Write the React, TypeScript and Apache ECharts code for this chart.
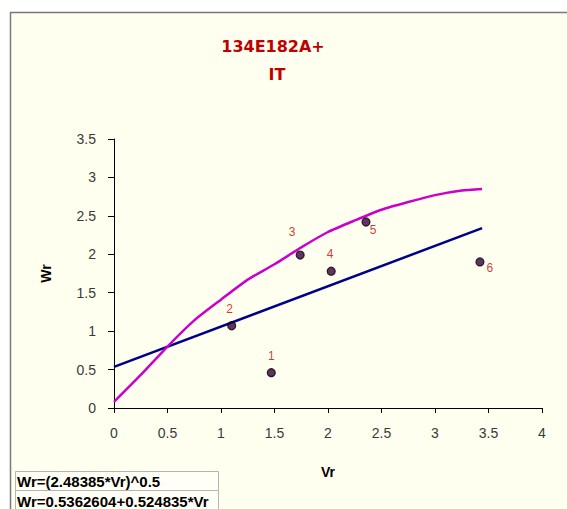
import React, { useEffect, useRef } from "react";
import * as echarts from "echarts";

const titleLines = ["134E182A+", "IT"];
const xAxisName = "Vr";
const yAxisName = "Wr";

const pointLabels = ["1", "2", "3", "4", "5", "6"];
const pointVr = [1.47, 1.1, 1.74, 2.03, 2.355, 3.42];
const pointWr = [0.46, 1.07, 1.99, 1.78, 2.42, 1.9];

const powerFitVr = [0, 0.25, 0.5, 0.75, 1.0, 1.25, 1.5, 1.75, 2.0, 2.25, 2.5, 2.75, 3.0, 3.25, 3.44];
const powerFitWr = [0.08, 0.43, 0.8, 1.14, 1.41, 1.67, 1.87, 2.09, 2.29, 2.44, 2.58, 2.68, 2.77, 2.83, 2.85];

const linearFitVr = [0, 3.44];
const linearFitWr = [0.536, 2.34];

const legendTexts = ["Wr=(2.48385*Vr)^0.5", "Wr=0.5362604+0.524835*Vr"];

// label offsets (style only)
const labelOffsets: [number, number][] = [
  [0, -17],
  [-2, -17],
  [-8, -23],
  [-1, -17],
  [7, 8],
  [10, 6],
];

export default function App() {
  const ref = useRef<HTMLDivElement>(null);

  useEffect(() => {
    if (!ref.current) return;
    const chart = echarts.init(ref.current, null, { renderer: "svg" });
    const cream = "#fffff0";
    const tickFont = { fontFamily: "Liberation Sans, Arial, sans-serif", fontSize: 14, color: "#3a3a3a" };
    const titleStyle = { color: "#c00000", fontSize: 16, fontWeight: "bold", fontFamily: "DejaVu Sans, sans-serif" };

    chart.setOption({
      animation: false,
      backgroundColor: "#ffffff",
      title: [
        { text: titleLines[0], left: 268, top: 33, textAlign: "center", textStyle: titleStyle },
        { text: titleLines[1], left: 272, top: 61, textAlign: "center", textStyle: titleStyle },
      ],
      graphic: [
        {
          type: "rect",
          z: -10,
          silent: true,
          shape: { x: 10.5, y: 12.5, width: 600, height: 600 },
          style: { fill: cream, stroke: "#7a7a7a", lineWidth: 1.5 },
        },
        {
          type: "rect",
          z: 10,
          shape: { x: 15.5, y: 471.5, width: 203, height: 19 },
          style: { fill: "#fffff6", stroke: "#b4b4b4", lineWidth: 1 },
        },
        {
          type: "rect",
          z: 10,
          shape: { x: 15.5, y: 490.5, width: 203, height: 20 },
          style: { fill: "#fffff6", stroke: "#b4b4b4", lineWidth: 1 },
        },
        {
          type: "text",
          z: 11,
          x: 17,
          y: 481.5,
          style: {
            text: legendTexts[0],
            fill: "#000",
            font: "bold 15px 'Liberation Sans', Arial, sans-serif",
            verticalAlign: "middle",
          },
        },
        {
          type: "text",
          z: 11,
          x: 17,
          y: 501,
          style: {
            text: legendTexts[1],
            fill: "#000",
            font: "bold 15px 'Liberation Sans', Arial, sans-serif",
            verticalAlign: "middle",
          },
        },
      ],
      grid: { left: 114, top: 139, width: 428, height: 269, containLabel: false },
      xAxis: {
        type: "value",
        min: 0,
        max: 4,
        interval: 0.5,
        name: xAxisName,
        nameLocation: "middle",
        nameGap: 57,
        nameTextStyle: { fontWeight: "bold", fontSize: 14, color: "#000", fontFamily: "Liberation Sans, Arial, sans-serif" },
        axisLine: { show: true, onZero: false, lineStyle: { color: "#000", width: 1 } },
        axisTick: { show: true, length: 5, lineStyle: { color: "#000" } },
        axisLabel: { ...tickFont, margin: 18 },
        splitLine: { show: false },
      },
      yAxis: {
        type: "value",
        min: 0,
        max: 3.5,
        interval: 0.5,
        name: yAxisName,
        nameLocation: "middle",
        nameGap: 61,
        nameRotate: 90,
        nameTextStyle: { fontWeight: "bold", fontSize: 14, color: "#000", fontFamily: "Liberation Sans, Arial, sans-serif" },
        axisLine: { show: true, onZero: false, lineStyle: { color: "#000", width: 1 } },
        axisTick: { show: true, length: 6, lineStyle: { color: "#000" } },
        axisLabel: { ...tickFont, margin: 18 },
        splitLine: { show: false },
      },
      series: [
        {
          name: legendTexts[1],
          type: "line",
          data: linearFitVr.map((v, i) => [v, linearFitWr[i]]),
          showSymbol: false,
          symbol: "none",
          lineStyle: { color: "#00008b", width: 2.5 },
          z: 3,
        },
        {
          name: legendTexts[0],
          type: "line",
          data: powerFitVr.map((v, i) => [v, powerFitWr[i]]),
          smooth: 0.2,
          showSymbol: false,
          symbol: "none",
          lineStyle: { color: "#cc00cc", width: 2.5 },
          z: 4,
        },
        {
          name: "points",
          type: "scatter",
          symbolSize: 8,
          itemStyle: { color: "#3a0040", borderColor: "#000", borderWidth: 1.2 },
          data: pointVr.map((v, i) => ({
            value: [v, pointWr[i]],
            name: pointLabels[i],
            label: {
              show: true,
              position: "inside",
              offset: labelOffsets[i],
              formatter: pointLabels[i],
              color: "#d00000",
              fontSize: 12,
              fontFamily: "Liberation Sans, Arial, sans-serif",
            },
          })),
          z: 5,
        },
      ],
    });
    return () => chart.dispose();
  }, []);

  return (
    <div
      ref={ref}
      style={{ position: "fixed", left: 0, top: 0, width: 567, height: 509 }}
    />
  );
}
